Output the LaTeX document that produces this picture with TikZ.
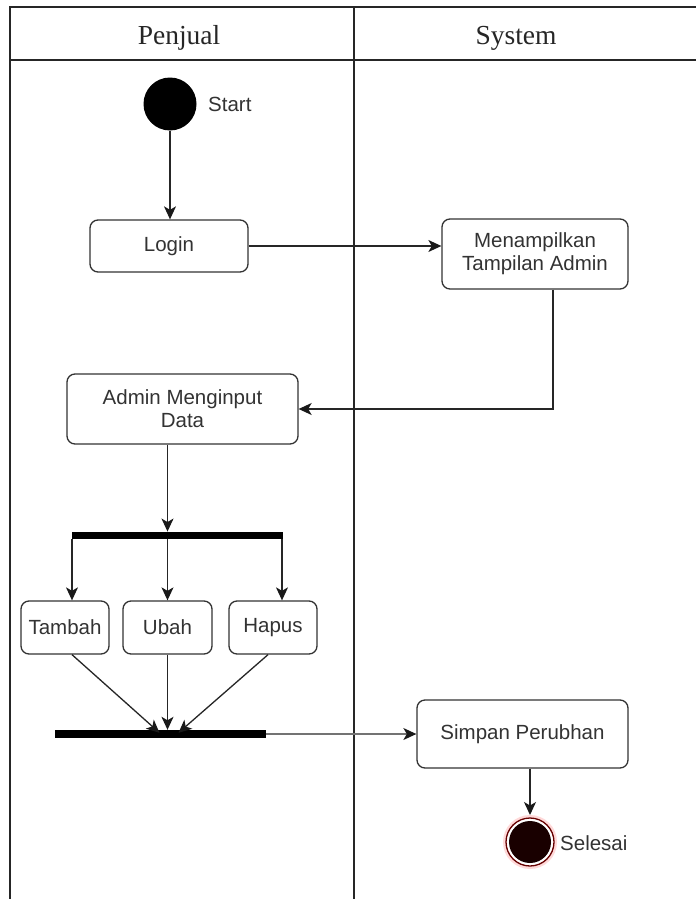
\documentclass[tikz,border=0pt]{standalone}
\usepackage{fontspec}
\setmainfont{Liberation Sans}
\newfontfamily\hdrfont{Liberation Serif}
\usetikzlibrary{arrows.meta,calc}
\begin{document}
\begin{tikzpicture}[x=1pt,y=-1pt,
  frameline/.style={line width=1.6pt,draw=black!85},
  act/.style={draw=black!80,line width=1.3pt,rounded corners=8pt,fill=white,
    text=black!80,align=center,inner sep=0pt,
    font=\fontsize{20.5}{23}\selectfont},
  bar/.style={fill=black,inner sep=0pt,minimum height=7.5pt},
  lbl/.style={text=black!80,inner sep=0pt,font=\fontsize{20.5}{23}\selectfont},
  hdr/.style={inner sep=0pt,text=black!85,font=\hdrfont\fontsize{27.5}{30}\selectfont},
  flow/.style={line width=1.3pt,draw=black!85,-{Stealth[length=13pt,width=12pt,inset=3.5pt,color=black!90]}}
]
\useasboundingbox (0,0) rectangle (696,899);
\fill[white] (0,0) rectangle (696,899);
% swimlane frame
\draw[frameline] (10,899) -- (10,7) -- (696,7);
\draw[frameline] (10,60) -- (696,60);
\draw[frameline] (354,7) -- (354,899);
\node[hdr,anchor=base] (hpenjual) at (179,45) {Penjual};
\node[hdr,anchor=base] (hsystem) at (516,45) {System};

% nodes
\node[circle,fill=black,minimum size=53pt,inner sep=0pt] (start) at (170,104) {};
\node[lbl,anchor=west] (startlbl) at (208,104) {Start};
\node[act,minimum width=158pt,minimum height=52pt] (login) at (169,246) {Login};
\node[act,minimum width=186pt,minimum height=70pt] (menampilkan) at (535,254) {Menampilkan\\Tampilan Admin};
\node[act,minimum width=231pt,minimum height=70pt] (admin) at (182.5,409) {Admin Menginput\\Data};
\node[bar,minimum width=211pt] (fork) at (177.5,535.5) {};
\node[act,minimum width=88pt,minimum height=53pt] (tambah) at (65,627.5) {Tambah};
\node[act,minimum width=89pt,minimum height=53pt] (ubah) at (167.5,627.5) {Ubah};
\node[act,minimum width=88pt,minimum height=53pt] (hapus) at (273,627.5) {Hapus};
\node[bar,minimum width=211pt,minimum height=8pt] (join) at (160.5,734) {};
\node[act,minimum width=211pt,minimum height=68pt] (simpan) at (522.5,734) {Simpan Perubhan};
\node[circle,draw=pink!60,line width=3pt,fill=white,minimum size=51pt,inner sep=0pt] (endnode) at (530,842) {};
\draw[red!40!black,line width=1.3pt] (endnode.center) circle (24pt);
\fill[black!90!red] (endnode.center) circle (21pt);
\node[lbl,anchor=west] (endlbl) at (560,843) {Selesai};

% connectors
\draw[flow] (start.south) -- (start.south |- login.north);
\draw[flow] (login.east) -- (login.east -| menampilkan.west);
\draw[flow] ([xshift=18pt]menampilkan.south) |- (admin.east);
\draw[flow] (ubah.north |- admin.south) -- (ubah.north |- fork.north);
\draw[flow] ([xshift=7pt]tambah.north |- fork.south) -- ([xshift=7pt]tambah.north);
\draw[flow] (ubah.north |- fork.south) -- (ubah.north);
\draw[flow] ([xshift=9pt]hapus.north |- fork.south) -- ([xshift=9pt]hapus.north);
\draw[flow] ([xshift=7pt]tambah.south) -- ([xshift=-8pt,yshift=-3pt]ubah.south |- join.north);
\draw[flow] (ubah.south) -- (ubah.south |- join.north);
\draw[flow] ([xshift=-5pt]hapus.south) -- ([xshift=11pt,yshift=-3pt]ubah.south |- join.north);
\draw[flow,draw=black!55] (join.east) -- (simpan.west);
\draw[flow] (endnode.north |- simpan.south) -- (endnode.north);
\end{tikzpicture}
\end{document}
